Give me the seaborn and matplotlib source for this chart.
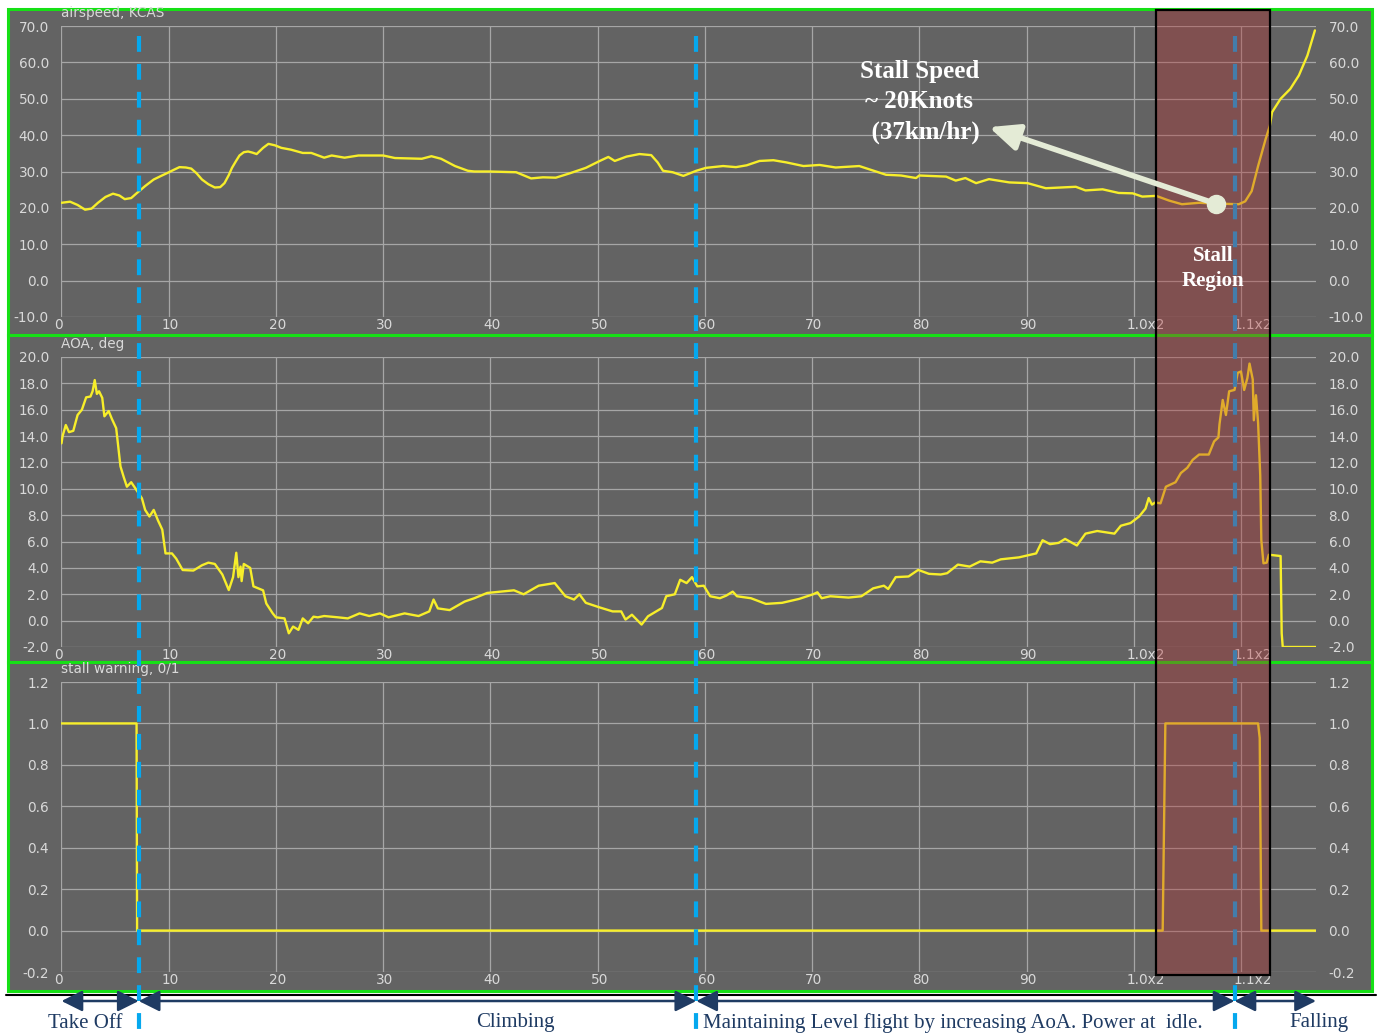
import matplotlib
matplotlib.use('Agg')
import matplotlib.pyplot as plt
import matplotlib.transforms as mtransforms
from matplotlib.patches import Rectangle, FancyArrowPatch
from matplotlib.lines import Line2D
import seaborn as sns

# ---------------- data ----------------
air_x = [0, 0.8, 1.5, 2.2, 2.8, 3.4, 4.1, 4.8, 5.4, 5.9, 6.5, 7.0, 7.8, 8.6, 9.3, 9.95,
         10.5, 11.0, 11.6, 12.1, 12.6, 13.1, 13.7, 14.3, 14.8, 15.2, 15.6, 15.9, 16.3, 16.6,
         17.0, 17.4, 17.8, 18.2, 18.8, 19.3, 19.9, 20.5, 21.4, 22.5, 23.3, 24.5, 25.2, 26.4,
         27.7, 30.0, 31.1, 33.6, 34.5, 35.4, 36.7, 37.9, 38.5, 39.9, 42.4, 43.8, 44.9, 46.1,
         47.4, 48.9, 50.2, 51.0, 51.6, 52.7, 53.9, 55.0, 55.6, 56.1, 57.0, 58.0, 59.2, 60.1,
         61.7, 62.9, 63.9, 65.1, 66.4, 67.6, 69.2, 70.7, 72.2, 74.4, 76.9, 78.3, 79.7, 80.0,
         82.5, 83.4, 84.3, 85.3, 86.5, 88.4, 90.1, 91.8, 94.6, 95.5, 97.1, 98.6, 99.9, 100.8,
         102.1, 103.3, 104.5, 106.1, 107.6, 109.8, 110.4, 111.0, 111.6, 112.3, 112.7, 112.9,
         113.7, 114.6, 115.4, 116.2, 116.9]
air_y = [21.4, 21.7, 20.8, 19.5, 19.8, 21.4, 23.0, 23.9, 23.4, 22.4, 22.7, 24.0, 26.0, 27.8, 28.8, 29.7,
         30.5, 31.2, 31.1, 30.8, 29.5, 27.8, 26.5, 25.6, 25.7, 26.8, 29.0, 31.0, 33.0, 34.4,
         35.3, 35.5, 35.2, 34.8, 36.5, 37.6, 37.2, 36.5, 36.0, 35.1, 35.1, 33.8, 34.4, 33.8,
         34.4, 34.4, 33.7, 33.5, 34.2, 33.5, 31.5, 30.2, 30.0, 30.0, 29.8, 28.1, 28.4, 28.3,
         29.5, 31.0, 32.9, 34.0, 32.9, 34.1, 34.8, 34.5, 32.5, 30.2, 29.8, 28.8, 30.2, 31.0,
         31.5, 31.2, 31.7, 32.9, 33.1, 32.5, 31.5, 31.8, 31.1, 31.5, 29.1, 28.9, 28.2, 28.9,
         28.6, 27.5, 28.2, 26.8, 27.9, 27.0, 26.8, 25.4, 25.8, 24.8, 25.1, 24.1, 24.0, 23.1,
         23.3, 22.0, 21.0, 21.4, 21.2, 21.0, 21.8, 24.6, 31.5, 38.9, 42.6, 46.3,
         50.0, 52.7, 56.4, 61.9, 68.8]

aoa_x = [0, 0.1, 0.4, 0.7, 1.1, 1.5, 1.9, 2.3, 2.7, 2.9, 3.1, 3.3, 3.5, 3.8, 4.0, 4.4, 4.7,
         5.1, 5.5, 5.8, 6.1, 6.5, 7.0, 7.5, 7.8, 8.2, 8.6, 9.0, 9.4, 9.7, 10.3, 10.7, 11.3,
         12.3, 13.1, 13.7, 14.3, 15.0, 15.6, 16.0, 16.3, 16.5, 16.7, 16.8, 17.0, 17.6, 17.9,
         18.8, 19.1, 19.7, 20.0, 20.8, 21.2, 21.6, 22.1, 22.5, 23.0, 23.5, 23.9, 24.5, 25.8,
         26.7, 27.8, 28.7, 29.7, 30.5, 32.0, 33.3, 34.3, 34.7, 35.1, 36.2, 37.6, 38.5, 39.7,
         41.0, 42.2, 43.1, 44.5, 46.0, 47.0, 47.8, 48.3, 48.9, 50.2, 51.4, 52.2, 52.6, 53.2,
         54.1, 54.7, 56.0, 56.4, 57.2, 57.7, 58.3, 58.8, 59.3, 59.9, 60.5, 61.4, 62.0, 62.6,
         63.0, 64.3, 65.7, 67.2, 68.8, 70.1, 70.5, 70.9, 71.7, 73.4, 74.6, 75.7, 76.7, 77.1,
         77.8, 79.0, 79.9, 80.9, 82.0, 82.6, 83.6, 84.7, 85.7, 86.8, 87.6, 89.3, 90.9, 91.5,
         92.2, 93.0, 93.6, 94.7, 95.5, 96.6, 98.2, 98.8, 99.7, 100.5, 101.1, 101.4, 101.7,
         102.0, 102.5, 103.0, 103.9, 104.4, 105.0, 105.5, 106.1, 107.0, 107.5, 107.9, 108.0,
         108.3, 108.6, 108.9, 109.4, 109.7, 110.0, 110.3, 110.6, 110.8, 111.1, 111.2, 111.4,
         111.6, 111.8, 111.9, 112.1, 112.4, 112.6, 113.7, 113.8, 113.9, 117.0]
aoa_y = [13.45, 14.0, 14.84, 14.3, 14.4, 15.6, 16.0, 16.94, 17.0, 17.4, 18.25, 17.2, 17.4, 16.9, 15.5, 15.9, 15.3,
         14.6, 11.7, 10.9, 10.16, 10.5, 9.9, 9.28, 8.4, 7.9, 8.4, 7.6, 6.9, 5.1, 5.1, 4.7, 3.84,
         3.8, 4.2, 4.4, 4.3, 3.5, 2.32, 3.3, 5.15, 3.3, 4.1, 3.0, 4.3, 4.0, 2.6,
         2.3, 1.3, 0.55, 0.25, 0.17, -0.96, -0.45, -0.7, 0.17, -0.2, 0.3, 0.25, 0.35, 0.25,
         0.17, 0.55, 0.35, 0.55, 0.25, 0.55, 0.35, 0.7, 1.6, 0.93, 0.8, 1.45, 1.7, 2.1,
         2.2, 2.3, 2.0, 2.65, 2.85, 1.85, 1.6, 2.0, 1.35, 1.0, 0.7, 0.7, 0.08, 0.45,
         -0.3, 0.33, 0.96, 1.85, 2.0, 3.1, 2.85, 3.3, 2.6, 2.65, 1.85, 1.7, 1.9, 2.2,
         1.85, 1.7, 1.27, 1.35, 1.65, 2.0, 2.15, 1.7, 1.85, 1.75, 1.85, 2.45, 2.65, 2.4,
         3.3, 3.35, 3.85, 3.55, 3.5, 3.6, 4.25, 4.1, 4.5, 4.4, 4.65, 4.8, 5.1, 6.1,
         5.8, 5.9, 6.2, 5.7, 6.6, 6.8, 6.6, 7.2, 7.4, 7.9, 8.5, 9.3, 8.8,
         8.96, 8.9, 10.16, 10.5, 11.2, 11.6, 12.2, 12.6, 12.6, 13.6, 13.9, 14.9,
         16.74, 15.6, 17.4, 17.5, 18.8, 18.9, 17.5, 18.4, 19.5, 18.3, 15.2, 17.1,
         15.0, 11.0, 6.1, 4.35, 4.4, 5.0, 4.9, -0.97, -2.0, -2.0]

warn_x = [0, 7.0, 7.05, 102.7, 102.95, 111.6, 111.75, 111.9, 117.0]
warn_y = [1, 1, 0, 0, 1, 1, 0.93, 0, 0]

x_ticks = [0, 10, 20, 30, 40, 50, 60, 70, 80, 90, 100, 110]
x_tick_labels = ['0', '10', '20', '30', '40', '50', '60', '70', '80', '90', '1.0x2', '1.1x2']
air_ticks = [-10, 0, 10, 20, 30, 40, 50, 60, 70]
aoa_ticks = [-2, 0, 2, 4, 6, 8, 10, 12, 14, 16, 18, 20]
warn_ticks = [-0.2, 0, 0.2, 0.4, 0.6, 0.8, 1.0, 1.2]
panel_titles = ['airspeed, KCAS', 'AOA, deg', 'stall warning, 0/1']

phase_bounds = [0, 7.2, 59.2, 109.4, 117.0]
phase_labels = ['Take Off', 'Climbing',
                'Maintaining Level flight by increasing AoA. Power at  idle.', 'Falling']
phase_label_x = [2.2, 42.3, 59.8, 117.3]
phase_label_ha = ['center', 'center', 'left', 'center']

stall_region = [102.1, 112.7]
stall_point = (107.7, 21.1)
stall_text_pos = (80.0, 49.1)
stall_arrow_tip = (86.5, 42.2)

# ---------------- style ----------------
sns.set_style('white')
plt.rcParams['font.family'] = ['DejaVu Sans']

W, H = 1382, 1034
fig = plt.figure(figsize=(W / 100, H / 100), dpi=100)
fig.patch.set_facecolor('white')


def fx(px):
    return px / W


def fy(py):
    return 1 - py / H


YEL = '#f7ee2a'
GRID = '#a6a6a6'
TXT = '#d9d9d9'
BG = '#636363'
GREEN = '#16e016'
BLUE = '#05a8ee'
NAVY = '#1f3b63'
SERIF = ['Liberation Serif', 'DejaVu Serif']

# panel backgrounds with green borders
for top, bot in [(9, 335), (335, 662), (662, 991)]:
    fig.add_artist(Rectangle((fx(8), fy(bot)), fx(1372) - fx(8), (bot - top) / H,
                             transform=fig.transFigure, facecolor=BG, edgecolor=GREEN,
                             lw=2.2, zorder=-5))
fig.add_artist(Line2D([fx(6), fx(1376)], [fy(995), fy(995)], transform=fig.transFigure,
                      color='black', lw=1.5, zorder=-6))

left_px, right_px = 61.5, 1316
axes = []
for top, bot in [(26, 317), (357, 647), (682, 972)]:
    ax = fig.add_axes([fx(left_px), fy(bot), fx(right_px) - fx(left_px), (bot - top) / H])
    ax.set_facecolor('none')
    axes.append(ax)

series = [(air_x, air_y), (aoa_x, aoa_y), (warn_x, warn_y)]
yticks = [air_ticks, aoa_ticks, warn_ticks]
ylims = [(-10, 70), (-2, 20), (-0.2, 1.2)]

offset = mtransforms.ScaledTranslation(-7 / 100, 0, fig.dpi_scale_trans)
for ax, (xs, ys), yt, yl, title in zip(axes, series, yticks, ylims, panel_titles):
    sns.lineplot(x=xs, y=ys, ax=ax, color=YEL, lw=1.7, estimator=None, sort=False)
    ax.set_xlim(0, 117)
    ax.set_ylim(*yl)
    ax.set_xticks(x_ticks)
    ax.set_xticklabels(x_tick_labels)
    ax.set_yticks(yt)
    ax.set_yticklabels(['{:.1f}'.format(v + 0.0) for v in yt])
    ax.set_xlabel('')
    ax.set_ylabel('')
    for s in ax.spines.values():
        s.set_visible(False)
    ax.grid(True, color=GRID, lw=0.9)
    ax.set_axisbelow(True)
    ax.tick_params(axis='both', length=0, colors=TXT, labelsize=9.8)
    ax.tick_params(axis='y', pad=9, labelright=True, right=True)
    ax.tick_params(axis='x', pad=1)
    for lab in ax.get_xticklabels():
        lab.set_horizontalalignment('left')
        lab.set_transform(lab.get_transform() + offset)
    ax.text(0, 1 + 13 / 291, title, transform=ax.transAxes,
            ha='left', va='center', fontsize=9.8, color=TXT)

blended = mtransforms.blended_transform_factory(axes[0].transData, fig.transFigure)

# phase boundary dashed lines
for xb in phase_bounds[1:-1]:
    fig.add_artist(Line2D([xb, xb], [fy(36), fy(1032)], transform=blended, color=BLUE,
                          lw=3, dashes=(3.8, 2.9), zorder=2))

# stall region overlay
fig.add_artist(Rectangle((stall_region[0], fy(975)), stall_region[1] - stall_region[0],
                         (975 - 10) / H, transform=blended,
                         facecolor=(183 / 255, 46 / 255, 46 / 255, 0.35),
                         edgecolor='black', lw=1.6, zorder=3))
fig.text(107.4, 3.4, 'Stall\nRegion', transform=axes[0].transData, ha='center',
         va='center', fontsize=15, fontweight='bold', family=SERIF, color='white',
         linespacing=1.3, zorder=6)

# stall speed annotation
ARW = '#e4ebd6'
fig.add_artist(FancyArrowPatch(stall_point, stall_arrow_tip, transform=axes[0].transData,
                               arrowstyle='-|>,head_length=0.9,head_width=0.4',
                               mutation_scale=20, lw=4, color=ARW, shrinkA=0, shrinkB=0,
                               zorder=6))
fig.add_artist(Line2D([stall_point[0]], [stall_point[1]], transform=axes[0].transData,
                      marker='o', ms=13, color=ARW, zorder=7))
fig.text(stall_text_pos[0], stall_text_pos[1], 'Stall Speed\n~ 20Knots\n  (37km/hr)',
         transform=axes[0].transData, ha='center', va='center', fontsize=18,
         fontweight='bold', family=SERIF, color='white', linespacing=1.4, zorder=6)

# phase arrows and labels
for a, b in zip(phase_bounds[:-1], phase_bounds[1:]):
    fig.add_artist(FancyArrowPatch((a, fy(1001)), (b, fy(1001)), transform=blended,
                                   arrowstyle='<|-|>,head_length=0.8,head_width=0.4',
                                   mutation_scale=16, lw=1.8, color=NAVY,
                                   shrinkA=0, shrinkB=0, zorder=4))
for lx, lab, ha in zip(phase_label_x, phase_labels, phase_label_ha):
    fig.text(lx, fy(1023), lab, transform=blended, ha=ha, va='center', fontsize=15,
             family=SERIF, color=NAVY)

fig.savefig('out.png', dpi=100, facecolor='white')
